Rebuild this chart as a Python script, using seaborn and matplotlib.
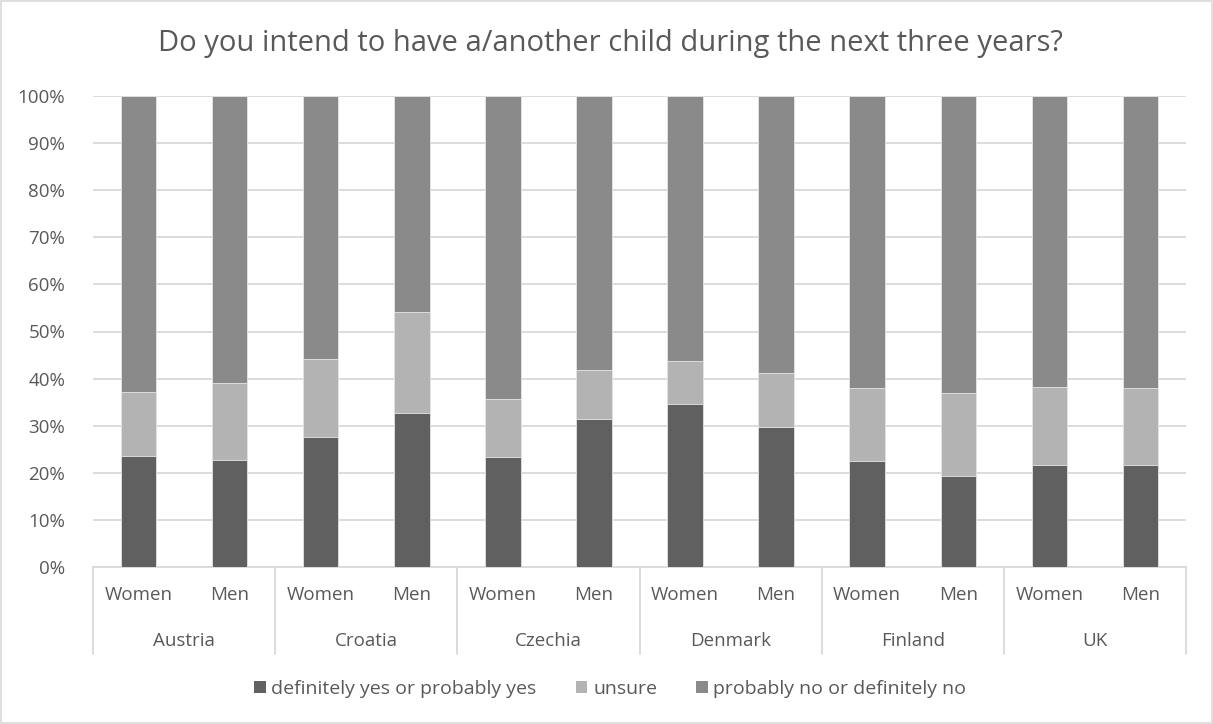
import numpy as np
import pandas as pd
import matplotlib
matplotlib.use("Agg")
import matplotlib.pyplot as plt
from matplotlib.patches import Rectangle, Patch
from matplotlib.transforms import blended_transform_factory
import seaborn as sns

# Survey shares (%) per country and sex
countries = ["Austria", "Croatia", "Czechia", "Denmark", "Finland", "UK"]
sexes = ["Women", "Men"]
yes_share = [23.5, 22.7, 27.7, 32.8, 23.3, 31.5, 34.7, 29.7, 22.5, 19.4, 21.7, 21.7]
unsure_share = [13.7, 16.3, 16.5, 21.4, 12.3, 10.4, 9.0, 11.4, 15.5, 17.5, 16.5, 16.3]
series_names = ["definitely yes or probably yes", "unsure", "probably no or definitely no"]
series_colors = ["#606060", "#b3b3b3", "#8a8a8a"]
title = "Do you intend to have a/another child during the next three years?"

sns.set_theme(style="white")
plt.rcParams["font.family"] = ["Open Sans", "DejaVu Sans"]
text_color = "#595959"
grid_color = "#d9d9d9"

rows = []
for ci, c in enumerate(countries):
    for si, s in enumerate(sexes):
        k = ci * 2 + si
        y = yes_share[k] / 100
        u = unsure_share[k] / 100
        rows.append({"bar": f"{c}|{s}", "country": c, "sex": s,
                     "yes": y, "yes_unsure": y + u, "total": 1.0})
df = pd.DataFrame(rows)
order = list(df["bar"])

fig = plt.figure(figsize=(12.13, 7.24), dpi=100)
ax = fig.add_axes([93 / 1213, 157 / 724, 1093 / 1213, 471 / 724])

# Stacked bars: draw cumulative heights from the tallest layer down
for col, color in zip(["total", "yes_unsure", "yes"], series_colors[::-1]):
    sns.barplot(data=df, x="bar", y=col, order=order, color=color,
                width=0.39, saturation=1, ax=ax, errorbar=None, zorder=3,
                edgecolor="#e6e6e6", linewidth=0.6)

ax.set_xlim(-0.5, len(order) - 0.5)
ax.set_ylim(0, 1)
ax.set_yticks(np.linspace(0, 1, 11))
ax.set_yticklabels([f"{int(round(v * 100))}%" for v in np.linspace(0, 1, 11)],
                   fontsize=13.5, color=text_color)
ax.yaxis.grid(True, color=grid_color, linewidth=1.3, zorder=0)
ax.set_axisbelow(True)
ax.tick_params(axis="y", length=0, pad=20)
ax.tick_params(axis="x", length=0, pad=14)
ax.set_xticks(range(len(order)))
ax.set_xticklabels(list(df["sex"]), fontsize=13.5, color=text_color)
ax.set_xlabel("")
ax.set_ylabel("")
for side in ["top", "right", "left"]:
    ax.spines[side].set_visible(False)
ax.spines["bottom"].set_color(grid_color)
ax.spines["bottom"].set_linewidth(1.3)

# Country group labels and separators below the axis
trans = blended_transform_factory(ax.transData, ax.transAxes)
sep_bottom = -(654 - 567) / 471
for ci, c in enumerate(countries):
    ax.text(ci * 2 + 0.5, -(641 - 567) / 471, c, transform=trans,
            ha="center", va="center", fontsize=13.5, color=text_color)
for b in range(len(countries) + 1):
    ax.plot([b * 2 - 0.5, b * 2 - 0.5], [0, sep_bottom], transform=trans,
            color=grid_color, linewidth=1.3, clip_on=False)

fig.text(0.503, 1 - 44 / 724, title, ha="center", va="center",
         fontsize=21, color=text_color)

handles = [Patch(facecolor=c, edgecolor="none") for c in series_colors]
fig.legend(handles, series_names, loc="center", bbox_to_anchor=(0.503, 1 - 689 / 724),
           ncol=3, frameon=False, fontsize=14, labelcolor=text_color,
           handlelength=0.6, handleheight=0.6, handletextpad=0.3, columnspacing=2.0)

fig.patches.append(Rectangle((1 / 1213, 1 / 724), 1 - 2 / 1213, 1 - 2 / 724,
                             transform=fig.transFigure, fill=False,
                             edgecolor=grid_color, linewidth=1.2))

fig.savefig("out.png", dpi=100, facecolor="white")
